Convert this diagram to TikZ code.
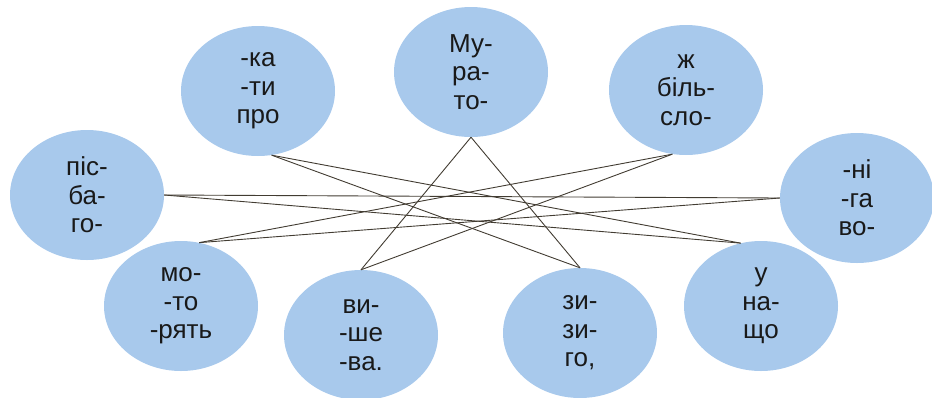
\documentclass[tikz,border=0pt]{standalone}
\usepackage{fontspec}
\setmainfont{Liberation Sans}
\usetikzlibrary{shapes.geometric}
\definecolor{bubble}{RGB}{168,201,236}
\definecolor{wire}{RGB}{66,60,50}
\begin{document}
\begin{tikzpicture}[x=1pt, y=-1pt,
  syl/.style={ellipse, fill=bubble, minimum width=154pt, minimum height=130pt, inner sep=0pt, align=center, font=\fontsize{26}{28.5}\selectfont, text=black!90},
  link/.style={draw=wire, line width=.9pt}]
\useasboundingbox (0,0) rectangle (932,397);
\node[syl](ka) at (258,91){-ка\\-ти\\про};
\node[syl](mu) at (471,72){Му-\\ра-\\то-};
\node[syl](zh) at (686,90){ж\\біль-\\сло-};
\node[syl](pis) at (87,195){піс-\\ба-\\го-};
\node[syl](ni) at (857,198){-ні\\-га\\во-};
\node[syl](mo) at (181,306){мо-\\-то\\-рять};
\node[syl](vy) at (361,335){ви-\\-ше\\-ва.};
\node[syl](zy) at (580,333){зи-\\зи-\\го,};
\node[syl](u) at (761,306){у\\на-\\що};

\draw[link](mu.south)--(vy.north);
\draw[link](mu.south)--(zy.north);
\draw[link](ka.-78)--(u.108);
\draw[link](ka.-78)--(zy.north);
\draw[link](zh.-102)--(vy.north);
\draw[link](zh.-102)--(mo.74);
\draw[link](pis.east)--(ni.west);
\draw[link](pis.east)--(u.108);
\draw[link](mo.74)--(ni.west);
\end{tikzpicture}
\end{document}
